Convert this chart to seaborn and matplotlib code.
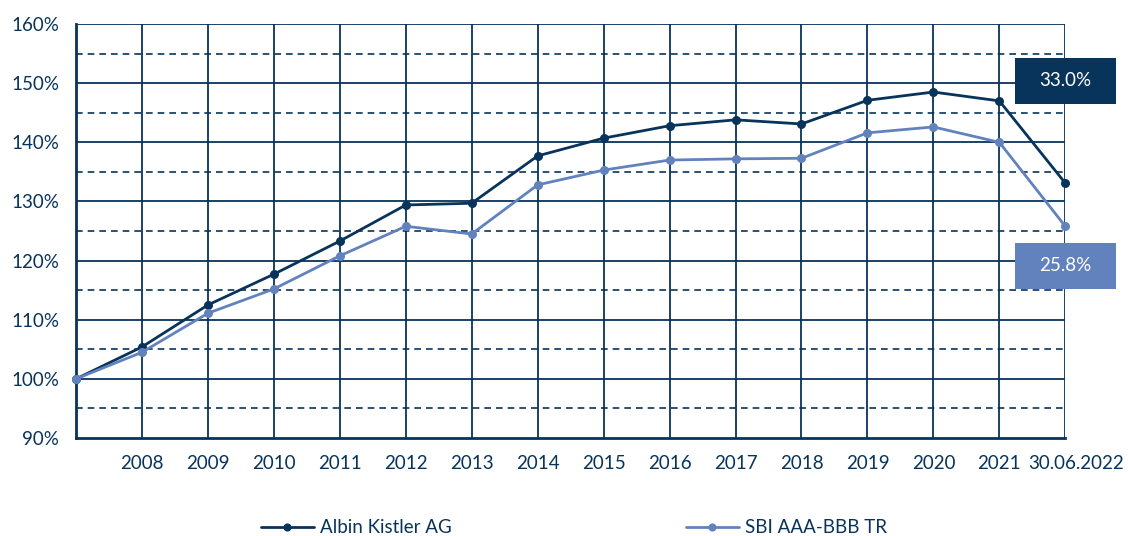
import seaborn as sns
import matplotlib.pyplot as plt
import matplotlib.transforms as mtransforms
from matplotlib.path import Path
import pandas as pd
import numpy as np

labels = ['', '2008', '2009', '2010', '2011', '2012', '2013', '2014', '2015',
          '2016', '2017', '2018', '2019', '2020', '2021', '30.06.2022']
albin = [100, 105.4, 112.5, 117.7, 123.3, 129.4, 129.7, 137.7, 140.7,
         142.8, 143.8, 143.1, 147.1, 148.5, 147.0, 133.1]
sbi = [100, 104.5, 111.1, 115.2, 120.8, 125.8, 124.5, 132.8, 135.3,
       137.0, 137.2, 137.3, 141.6, 142.6, 140.0, 125.8]
names = ['Albin Kistler AG', 'SBI AAA-BBB TR']
end_labels = ['33.0%', '25.8%']

navy = '#08335a'
light = '#6282bd'

x = np.arange(len(labels))
df = pd.DataFrame({
    'x': np.concatenate([x, x]),
    'value': albin + sbi,
    'series': [names[0]] * len(x) + [names[1]] * len(x),
})


def wide_box(x0, y0, width, height, mutation_size):
    # rectangle with more padding left/right than top/bottom
    px, py = 1.3 * mutation_size, 0.78 * mutation_size
    x0, y0 = x0 - px, y0 - py
    x1, y1 = x0 + width + 2 * px, y0 + height + 2 * py
    return Path([(x0, y0), (x1, y0), (x1, y1), (x0, y1), (x0, y0)], closed=True)


sns.set_style('white')
plt.rcParams['font.family'] = ['Lato', 'DejaVu Sans']

fig = plt.figure(figsize=(11.28, 5.36), dpi=100)
ax = fig.add_axes([0.0674, 0.1828, 0.877, 0.7724])

# grid: solid every 10%, dashed at the 5% in between
for v in range(100, 161, 10):
    ax.axhline(v, color=navy, lw=1.3, zorder=1)
for v in range(95, 160, 10):
    ax.axhline(v, color=navy, lw=1.2, ls=(0, (4, 3)), zorder=1)
for xi in x:
    ax.axvline(xi, color=navy, lw=1.3, zorder=1)

sns.lineplot(data=df, x='x', y='value', hue='series', palette=[navy, light],
             marker='o', markersize=6.5, markeredgewidth=0, linewidth=2,
             ax=ax, zorder=3, clip_on=False)

ax.set_xlim(0, len(labels) - 1)
ax.set_ylim(90, 160)
ax.set_xticks(x)
ax.set_xticklabels(labels)
ax.set_yticks(range(90, 161, 10))
ax.set_yticklabels([f'{v}%' for v in range(90, 161, 10)])
ax.set_xlabel('')
ax.set_ylabel('')
ax.tick_params(axis='both', length=0, labelsize=13.5, labelcolor=navy)
ax.tick_params(axis='x', pad=12)
ax.tick_params(axis='y', pad=12)
for s in ['top', 'right']:
    ax.spines[s].set_visible(False)
for s in ['left', 'bottom']:
    ax.spines[s].set_color(navy)
    ax.spines[s].set_linewidth(2)

# the last date label sits a little to the right of its grid line
last = ax.get_xticklabels()[-1]
last.set_transform(last.get_transform() +
                   mtransforms.ScaledTranslation(11 / 100, 0, fig.dpi_scale_trans))

# end value boxes
ax.text(x[-1], 150.4, end_labels[0], color='white', fontsize=13.5,
        ha='center', va='center', zorder=5,
        bbox=dict(boxstyle=wide_box, fc=navy, ec='none'))
ax.text(x[-1], 119.1, end_labels[1], color='white', fontsize=13.5,
        ha='center', va='center', zorder=5,
        bbox=dict(boxstyle=wide_box, fc=light, ec='none'))

ax.legend_.remove()
handles, lbls = ax.get_legend_handles_labels()
fig.legend(handles, lbls, loc='center', bbox_to_anchor=(0.509, 0.015),
           ncol=2, frameon=False, fontsize=13.5, labelcolor=navy,
           handlelength=2.8, handletextpad=0.35, columnspacing=12.5,
           markerscale=0.9)

fig.savefig('out.png', dpi=100)
